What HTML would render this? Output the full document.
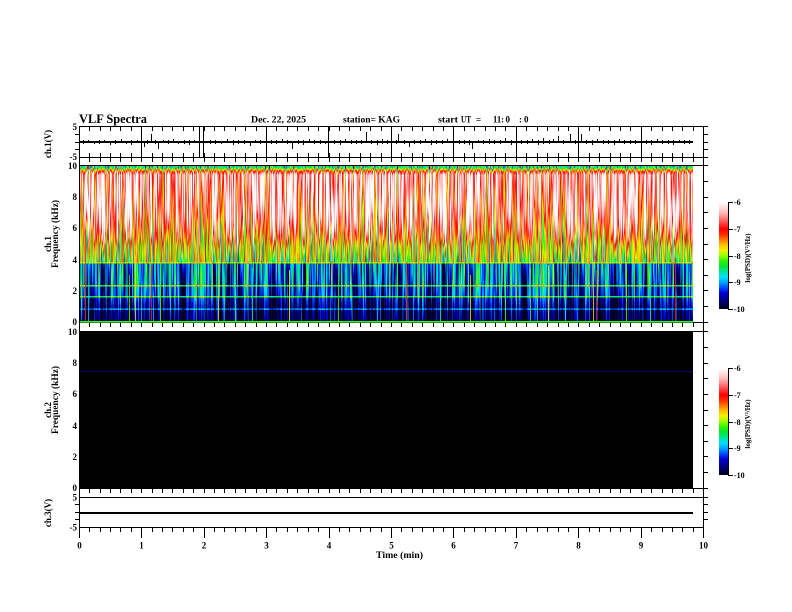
<!DOCTYPE html>
<html><head><meta charset="utf-8"><style>
html,body{margin:0;padding:0;background:#fff;}
svg{display:block;}
text{font-family:"Liberation Serif",serif;font-weight:bold;fill:#000;}
</style></head><body>
<svg width="792" height="612" viewBox="0 0 792 612" xmlns="http://www.w3.org/2000/svg">
<defs>
<linearGradient id="cb" x1="0" y1="0" x2="0" y2="1">
<stop offset="0" stop-color="rgb(255,255,255)"/>
<stop offset="0.05" stop-color="rgb(255,224,224)"/>
<stop offset="0.10" stop-color="rgb(255,184,184)"/>
<stop offset="0.15" stop-color="rgb(255,128,128)"/>
<stop offset="0.20" stop-color="rgb(255,64,64)"/>
<stop offset="0.25" stop-color="rgb(255,0,0)"/>
<stop offset="0.30" stop-color="rgb(255,38,0)"/>
<stop offset="0.35" stop-color="rgb(255,115,0)"/>
<stop offset="0.40" stop-color="rgb(255,191,0)"/>
<stop offset="0.45" stop-color="rgb(242,242,0)"/>
<stop offset="0.50" stop-color="rgb(153,255,0)"/>
<stop offset="0.55" stop-color="rgb(51,242,0)"/>
<stop offset="0.60" stop-color="rgb(0,230,51)"/>
<stop offset="0.65" stop-color="rgb(0,230,153)"/>
<stop offset="0.70" stop-color="rgb(0,224,255)"/>
<stop offset="0.75" stop-color="rgb(0,166,255)"/>
<stop offset="0.80" stop-color="rgb(0,77,255)"/>
<stop offset="0.85" stop-color="rgb(0,0,217)"/>
<stop offset="0.90" stop-color="rgb(0,0,153)"/>
<stop offset="0.95" stop-color="rgb(0,0,89)"/>
<stop offset="1" stop-color="rgb(0,0,26)"/>
</linearGradient>
<linearGradient id="fb" x1="0" y1="0" x2="0" y2="1">
<stop offset="0" stop-color="#30d0a0"/>
<stop offset="0.03" stop-color="#f0e000"/>
<stop offset="0.05" stop-color="#ff5050"/>
<stop offset="0.35" stop-color="#ff9090"/>
<stop offset="0.42" stop-color="#ff3020"/>
<stop offset="0.5" stop-color="#c0e000"/>
<stop offset="0.62" stop-color="#60e000"/>
<stop offset="0.64" stop-color="#0060ff"/>
<stop offset="0.78" stop-color="#0030ff"/>
<stop offset="0.85" stop-color="#0000b0"/>
<stop offset="0.9" stop-color="#000050"/>
<stop offset="1" stop-color="#000020"/>
</linearGradient>
<linearGradient id="lev" x1="0" y1="0" x2="0" y2="1">
<stop offset="0" stop-color="rgb(84,128,0)"/>
<stop offset="0.0128" stop-color="rgb(107,128,0)"/>
<stop offset="0.0256" stop-color="rgb(153,128,0)"/>
<stop offset="0.0385" stop-color="rgb(191,140,0)"/>
<stop offset="0.0577" stop-color="rgb(227,140,0)"/>
<stop offset="0.25" stop-color="rgb(227,140,0)"/>
<stop offset="0.33" stop-color="rgb(217,145,0)"/>
<stop offset="0.40" stop-color="rgb(200,155,0)"/>
<stop offset="0.46" stop-color="rgb(178,170,0)"/>
<stop offset="0.52" stop-color="rgb(145,160,0)"/>
<stop offset="0.60" stop-color="rgb(125,150,0)"/>
<stop offset="0.615" stop-color="rgb(120,140,0)"/>
<stop offset="0.617" stop-color="rgb(135,60,0)"/>
<stop offset="0.624" stop-color="rgb(135,60,0)"/>
<stop offset="0.626" stop-color="rgb(56,115,0)"/>
<stop offset="0.763" stop-color="rgb(50,115,0)"/>
<stop offset="0.765" stop-color="rgb(128,60,0)"/>
<stop offset="0.772" stop-color="rgb(128,60,0)"/>
<stop offset="0.774" stop-color="rgb(46,100,0)"/>
<stop offset="0.833" stop-color="rgb(42,95,0)"/>
<stop offset="0.835" stop-color="rgb(110,60,0)"/>
<stop offset="0.842" stop-color="rgb(110,60,0)"/>
<stop offset="0.844" stop-color="rgb(31,80,0)"/>
<stop offset="0.891" stop-color="rgb(20,77,0)"/>
<stop offset="0.913" stop-color="rgb(17,77,0)"/>
<stop offset="0.915" stop-color="rgb(66,51,0)"/>
<stop offset="0.921" stop-color="rgb(66,51,0)"/>
<stop offset="0.923" stop-color="rgb(14,77,0)"/>
<stop offset="1" stop-color="rgb(12,77,0)"/>
</linearGradient>
<filter id="spec" filterUnits="userSpaceOnUse" x="80" y="166" width="613" height="156" color-interpolation-filters="sRGB">
<feTurbulence type="fractalNoise" baseFrequency="0.75 0.012" numOctaves="2" seed="7" result="t"/>
<feColorMatrix in="t" type="matrix" values="1 0 0 0 0  1 0 0 0 0  1 0 0 0 0  0 0 0 0 1" result="n"/>
<feColorMatrix in="SourceGraphic" type="matrix" values="0 1 0 0 0  0 1 0 0 0  0 1 0 0 0  0 0 0 0 1" result="a"/>
<feColorMatrix in="SourceGraphic" type="matrix" values="1 0 0 0 0  1 0 0 0 0  1 0 0 0 0  0 0 0 0 1" result="g"/>
<feComposite in="n" in2="a" operator="arithmetic" k1="2.6" k2="0" k3="-1.3" k4="0.5" result="r"/>
<feComposite in="g" in2="r" operator="arithmetic" k1="0" k2="1" k3="1" k4="-0.5" result="L"/>
<feComponentTransfer in="L">
<feFuncR type="table" tableValues="0 0 0 0 0 0 0 0 0 0.2 0.6 0.95 1 1 1 1 1 1 1 1 1"/>
<feFuncG type="table" tableValues="0 0 0 0 0.3 0.65 0.88 0.9 0.9 0.95 1 0.95 0.75 0.45 0.15 0 0.25 0.5 0.72 0.88 1"/>
<feFuncB type="table" tableValues="0.1 0.35 0.6 0.85 1 1 1 0.6 0.2 0 0 0 0 0 0 0 0.25 0.5 0.72 0.88 1"/>
<feFuncA type="identity"/>
</feComponentTransfer>
</filter>
<path id="tk" d="M79.5 0v4M89.5 0v4M100.5 0v4M110.5 0v4M120.5 0v4M131.5 0v4M141.5 0v4M152.5 0v4M162.5 0v4M172.5 0v4M183.5 0v4M193.5 0v4M204.5 0v4M214.5 0v4M224.5 0v4M235.5 0v4M245.5 0v4M256.5 0v4M266.5 0v4M276.5 0v4M287.5 0v4M297.5 0v4M308.5 0v4M318.5 0v4M329.5 0v4M339.5 0v4M349.5 0v4M360.5 0v4M370.5 0v4M381.5 0v4M391.5 0v4M401.5 0v4M412.5 0v4M422.5 0v4M433.5 0v4M443.5 0v4M453.5 0v4M464.5 0v4M474.5 0v4M485.5 0v4M495.5 0v4M505.5 0v4M516.5 0v4M526.5 0v4M537.5 0v4M547.5 0v4M558.5 0v4M568.5 0v4M578.5 0v4M589.5 0v4M599.5 0v4M610.5 0v4M620.5 0v4M630.5 0v4M641.5 0v4M651.5 0v4M662.5 0v4M672.5 0v4M682.5 0v4M693.5 0v4M703.5 0v4" stroke="#000" stroke-width="1" fill="none"/>
</defs>

<rect x="0" y="0" width="792" height="612" fill="#fff"/>

<!-- frame lines -->
<g fill="#000" shape-rendering="crispEdges">
<rect x="79" y="126" width="629" height="1"/>
<rect x="79" y="157" width="629" height="1"/>
<rect x="79" y="165" width="629" height="1"/>
<rect x="79" y="322" width="629" height="1"/>
<rect x="79" y="331" width="629" height="1"/>
<rect x="79" y="488" width="629" height="1"/>
<rect x="79" y="497" width="629" height="1"/>
<rect x="79" y="527" width="625" height="1"/>
</g>

<!-- ch1 spectrogram -->
<rect x="80" y="166" width="613" height="156" fill="url(#fb)"/>
<rect x="80" y="166" width="613" height="156" fill="url(#lev)" filter="url(#spec)"/>
<g stroke-width="1" shape-rendering="crispEdges" opacity="0.8">
<path d="M85.5 230V322" stroke="#ff3000"/>
<path d="M88.5 262V322" stroke="#00d0ff"/>
<path d="M129.5 275V322" stroke="#30ff30"/>
<path d="M135.5 255V322" stroke="#ffe000"/>
<path d="M151.5 265V322" stroke="#ff2000"/>
<path d="M160.5 270V322" stroke="#40ff00"/>
<path d="M218.5 260V322" stroke="#e0ff00"/>
<path d="M235.5 262V322" stroke="#40ff40"/>
<path d="M252.5 268V322" stroke="#00ffa0"/>
<path d="M289.5 270V322" stroke="#ffff00"/>
<path d="M338.5 258V322" stroke="#40ff00"/>
<path d="M406.5 262V322" stroke="#ff3000"/>
<path d="M440.5 270V322" stroke="#00ff80"/>
<path d="M470.5 275V322" stroke="#ffe000"/>
<path d="M505.5 262V322" stroke="#60ff00"/>
<path d="M530.5 268V322" stroke="#40ff40"/>
<path d="M548.5 265V322" stroke="#ffff00"/>
<path d="M593.5 262V322" stroke="#ffd000"/>
<path d="M596.5 270V322" stroke="#ff2000"/>
<path d="M626.5 268V322" stroke="#60ff00"/>
<path d="M650.5 262V322" stroke="#00ffc0"/>
<path d="M675.5 258V322" stroke="#ff2000"/>
</g>
<rect x="80" y="321" width="613" height="1.6" fill="#30ff00"/>

<!-- ch2 spectrogram -->
<rect x="80" y="332" width="613" height="156.5" fill="#000"/>
<rect x="80" y="371" width="613" height="1" fill="#000070"/>

<!-- ch1 grid lines -->
<g stroke="#000" stroke-width="1" shape-rendering="crispEdges">
<path d="M141.5 127V157M199.5 127V157M203.5 127V157M266.5 127V157M328.5 127V157M391.5 127V157M453.5 127V157M516.5 127V157M578.5 127V157M641.5 127V157"/>
</g>

<!-- ch1 signal -->
<rect x="80" y="141" width="613" height="2" fill="#000"/>
<path stroke="#000" stroke-width="1" fill="none" shape-rendering="crispEdges" d="M83.5 140V144M88.5 140V143M94.5 141V144M99.5 140V144M104.5 140V142M110.5 141V145M115.5 140V144M121.5 139V143M126.5 141V144M131.5 140V145M137.5 140V143M144.5 142V147M147.5 140V144M151.5 134V142M155.5 140V144M158.5 142V149M163.5 140V143M168.5 140V144M173.5 139V143M178.5 141V144M184.5 140V144M189.5 140V145M194.5 140V143M210.5 140V144M215.5 140V144M221.5 141V144M227.5 139V143M233.5 140V145M238.5 140V144M244.5 140V144M250.5 141V146M255.5 140V143M260.5 140V144M271.5 140V144M276.5 140V144M282.5 139V143M287.5 140V144M292.5 142V149M298.5 140V144M303.5 140V145M309.5 139V143M314.5 140V144M320.5 140V144M325.5 141V144M334.5 140V144M340.5 140V145M345.5 139V143M351.5 140V144M356.5 140V144M361.5 140V144M366.5 132V142M371.5 140V144M377.5 140V145M382.5 139V144M387.5 140V144M396.5 140V144M398.5 134V142M404.5 140V144M409.5 142V147M414.5 140V144M420.5 140V144M425.5 139V143M431.5 140V145M436.5 140V144M442.5 140V144M447.5 139V143M459.5 140V144M464.5 140V144M469.5 140V145M472.5 142V149M478.5 140V143M483.5 140V144M489.5 139V144M494.5 140V144M500.5 140V144M505.5 138V143M511.5 140V145M521.5 140V144M527.5 140V144M532.5 139V143M538.5 140V145M543.5 138V144M549.5 140V144M553.5 139V143M558.5 136V142M563.5 140V144M570.5 134V142M575.5 140V144M581.5 134V142M586.5 140V144M592.5 140V145M597.5 139V143M603.5 140V144M608.5 140V144M614.5 140V145M619.5 139V143M624.5 140V144M630.5 140V144M635.5 140V144M646.5 140V144M651.5 140V145M657.5 139V143M662.5 140V144M668.5 140V144M673.5 140V145M679.5 140V143M684.5 140V144M689.5 140V144"/>

<!-- ch3 signal -->
<rect x="80" y="512" width="613" height="2" fill="#000"/>

<!-- axes vertical -->
<g fill="#000" shape-rendering="crispEdges">
<rect x="79" y="126" width="1" height="402"/>
<rect x="703" y="126" width="1" height="402"/>
</g>

<!-- x ticks -->
<use href="#tk" transform="translate(0,127)"/>
<use href="#tk" transform="translate(0,153)"/>
<use href="#tk" transform="translate(0,158)"/>
<use href="#tk" transform="translate(0,323)"/>
<use href="#tk" transform="translate(0,489)"/>
<use href="#tk" transform="translate(0,528)"/>
<path d="M79.5 528v10M141.5 528v10M204.5 528v10M266.5 528v10M329.5 528v10M391.5 528v10M453.5 528v10M516.5 528v10M578.5 528v10M641.5 528v10M703.5 528v10" stroke="#000" stroke-width="1" shape-rendering="crispEdges"/>

<!-- y ticks -->
<g fill="#000" shape-rendering="crispEdges">
<rect x="75" y="134" width="4" height="1"/><rect x="75" y="142" width="4" height="1"/><rect x="75" y="149" width="4" height="1"/>
<rect x="704" y="134" width="4" height="1"/><rect x="704" y="142" width="4" height="1"/><rect x="704" y="149" width="4" height="1"/>
<rect x="704" y="181" width="4" height="1"/><rect x="704" y="197" width="4" height="1"/><rect x="704" y="212" width="4" height="1"/><rect x="704" y="228" width="4" height="1"/><rect x="704" y="244" width="4" height="1"/><rect x="704" y="259" width="4" height="1"/><rect x="704" y="275" width="4" height="1"/><rect x="704" y="290" width="4" height="1"/><rect x="704" y="306" width="4" height="1"/>
<rect x="704" y="347" width="4" height="1"/><rect x="704" y="363" width="4" height="1"/><rect x="704" y="378" width="4" height="1"/><rect x="704" y="394" width="4" height="1"/><rect x="704" y="410" width="4" height="1"/><rect x="704" y="425" width="4" height="1"/><rect x="704" y="441" width="4" height="1"/><rect x="704" y="456" width="4" height="1"/><rect x="704" y="472" width="4" height="1"/>
<rect x="75" y="504" width="4" height="1"/><rect x="75" y="512" width="4" height="1"/><rect x="75" y="519" width="4" height="1"/>
<rect x="704" y="504" width="4" height="1"/><rect x="704" y="512" width="4" height="1"/><rect x="704" y="519" width="4" height="1"/>
</g>

<!-- colorbars -->
<rect x="719" y="202" width="9" height="107" fill="url(#cb)"/>
<rect x="719" y="368" width="9" height="107" fill="url(#cb)"/>
<g fill="#000" shape-rendering="crispEdges">
<rect x="728" y="202" width="1" height="108"/>
<rect x="728" y="202" width="5" height="1"/><rect x="728" y="229" width="5" height="1"/><rect x="728" y="256" width="5" height="1"/><rect x="728" y="282" width="5" height="1"/><rect x="728" y="309" width="5" height="1"/>
<rect x="728" y="368" width="1" height="108"/>
<rect x="728" y="368" width="5" height="1"/><rect x="728" y="395" width="5" height="1"/><rect x="728" y="422" width="5" height="1"/><rect x="728" y="448" width="5" height="1"/><rect x="728" y="475" width="5" height="1"/>
</g>
<g font-size="8">
<text x="734" y="205">-6</text><text x="734" y="232">-7</text><text x="734" y="259">-8</text><text x="734" y="285">-9</text><text x="734" y="312">-10</text>
<text x="734" y="371">-6</text><text x="734" y="398">-7</text><text x="734" y="425">-8</text><text x="734" y="451">-9</text><text x="734" y="478">-10</text>
</g>
<g font-size="7" text-anchor="middle">
<text transform="translate(750,258) rotate(-90)">log(PSD)(V²/Hz)</text>
<text transform="translate(750,424) rotate(-90)">log(PSD)(V²/Hz)</text>
</g>

<!-- header -->
<text x="79" y="123" font-size="13" textLength="68" lengthAdjust="spacingAndGlyphs">VLF Spectra</text>
<g font-size="9">
<text x="251" y="122.5" textLength="55" lengthAdjust="spacingAndGlyphs">Dec. 22, 2025</text>
<text x="343" y="122.5" textLength="57" lengthAdjust="spacingAndGlyphs">station= KAG</text>
<text x="438" y="122.5" textLength="20" lengthAdjust="spacingAndGlyphs">start</text>
<text x="461" y="122.5" textLength="10" lengthAdjust="spacingAndGlyphs">UT</text>
<text x="476" y="122.5">=</text>
<text x="493" y="122.5" textLength="11" lengthAdjust="spacingAndGlyphs">11:</text>
<text x="505.5" y="122.5">0</text>
<text x="519" y="122.5">:</text>
<text x="524" y="122.5">0</text>
</g>

<!-- left labels -->
<g font-size="9" text-anchor="end">
<text x="77" y="130">5</text>
<text x="77" y="160">-5</text>
<text x="77" y="169">10</text>
<text x="77" y="200">8</text>
<text x="77" y="231">6</text>
<text x="77" y="263">4</text>
<text x="77" y="294">2</text>
<text x="77" y="325">0</text>
<text x="77" y="335">10</text>
<text x="77" y="366">8</text>
<text x="77" y="397">6</text>
<text x="77" y="429">4</text>
<text x="77" y="460">2</text>
<text x="77" y="491">0</text>
<text x="77" y="500.5">5</text>
<text x="77" y="530.5">-5</text>
</g>
<g font-size="9" text-anchor="middle">
<text transform="translate(51,144) rotate(-90)">ch.1(V)</text>
<text transform="translate(51,244) rotate(-90)">ch.1</text>
<text transform="translate(58,234) rotate(-90)" textLength="68" lengthAdjust="spacingAndGlyphs">Frequency (kHz)</text>
<text transform="translate(51,410) rotate(-90)">ch.2</text>
<text transform="translate(58,400) rotate(-90)" textLength="68" lengthAdjust="spacingAndGlyphs">Frequency (kHz)</text>
<text transform="translate(51,513) rotate(-90)">ch.3(V)</text>
</g>

<!-- x labels -->
<g font-size="9" text-anchor="middle">
<text x="79.5" y="548.5">0</text>
<text x="141.5" y="548.5">1</text>
<text x="204" y="548.5">2</text>
<text x="266.5" y="548.5">3</text>
<text x="329" y="548.5">4</text>
<text x="391.5" y="548.5">5</text>
<text x="453.5" y="548.5">6</text>
<text x="516" y="548.5">7</text>
<text x="578.5" y="548.5">8</text>
<text x="641" y="548.5">9</text>
<text x="703.5" y="548.5">10</text>
<text x="399.5" y="558" textLength="47" lengthAdjust="spacingAndGlyphs">Time (min)</text>
</g>
</svg>
</body></html>
